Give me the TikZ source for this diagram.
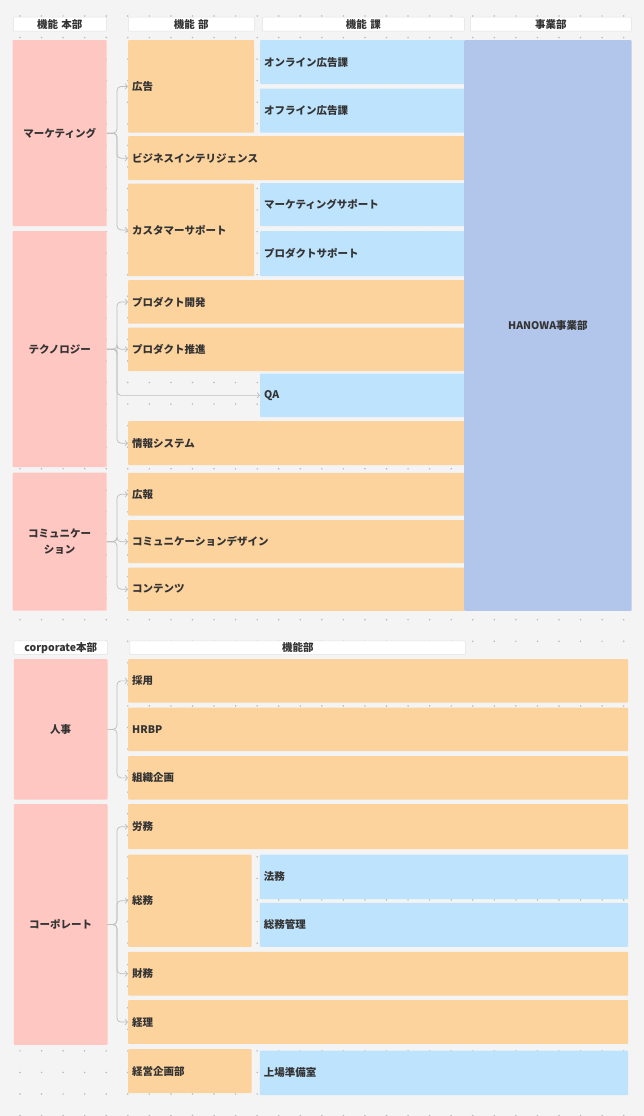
\documentclass[tikz,border=0pt]{standalone}
\usepackage{fontspec}
\setmainfont{Noto Sans CJK JP}
\usetikzlibrary{arrows.meta}
\definecolor{bg}{HTML}{F4F4F4}
\definecolor{dotc}{HTML}{B8B8B8}
\definecolor{ink}{HTML}{333333}
\definecolor{hqpink}{HTML}{FFC7C2}
\definecolor{deptorange}{HTML}{FCD29D}
\definecolor{sectblue}{HTML}{BEE3FD}
\definecolor{bizblue}{HTML}{B2C6EC}
\definecolor{hdrline}{HTML}{E2E2E2}
\definecolor{connc}{HTML}{BDBDBD}

\begin{document}
\begin{tikzpicture}[x=1pt,y=-1pt,
  base/.style={inner xsep=4pt,inner ysep=0pt,text=ink,rounded corners=0.8pt,
    font=\fontsize{10.5}{12.5}\selectfont\bfseries},
  hq/.style={base,fill=hqpink,align=center,font=\fontsize{10.5}{16.5}\selectfont\bfseries},
  dept/.style={base,fill=deptorange,align=left},
  sect/.style={base,fill=sectblue,align=left},
  biz/.style={base,fill=bizblue,align=center},
  hdr/.style={base,fill=white,draw=hdrline,line width=0.5pt,align=center},
  conn/.style={draw=connc,line width=0.7pt,rounded corners=4pt,
    -{Straight Barb[length=2.5pt,width=5.5pt]}}]
\def\bx#1#2#3#4#5#6#7{\pgfmathsetmacro\tw{#5-8}%
  \node[#2,anchor=north west,minimum width=#5pt,minimum height=#6pt,text width=\tw pt] (#1) at (#3,#4) {#7};}

\useasboundingbox (0,0) rectangle (644,1116);
\fill[bg] (0,0) rectangle (644,1116);
\foreach \i in {0,...,29}
  \foreach \j in {0,...,51}
    \fill[dotc] (20+\i*21.56,16+\j*21.56) circle[radius=0.85pt];

% headers
\bx{hdA}{hdr}{13}{17}{93}{14}{機能 本部}
\bx{hdB}{hdr}{128}{17}{126}{14}{機能 部}
\bx{hdC}{hdr}{262}{17}{202}{14}{機能 課}
\bx{hdD}{hdr}{470}{17}{161}{14}{事業部}

% 本部
\bx{mkt}{hq}{12.5}{40}{94}{186}{マーケティング}
\bx{tech}{hq}{12.5}{231}{94}{236}{テクノロジー}
\bx{comm}{hq}{12.5}{472.5}{94}{138}{コミュニケー\\ション}

% 部 / 課
\bx{ad}{dept}{128}{40}{126}{92.5}{広告}
\bx{online}{sect}{260}{40}{204}{44}{オンライン広告課}
\bx{offline}{sect}{260}{88.5}{204}{44}{オフライン広告課}
\bx{bi}{dept}{128}{136}{336}{44}{ビジネスインテリジェンス}
\bx{cs}{dept}{128}{183.5}{126}{92.5}{カスタマーサポート}
\bx{mktsup}{sect}{260}{183}{204}{43}{マーケティングサポート}
\bx{prodsup}{sect}{260}{231}{204}{45}{プロダクトサポート}
\bx{dev}{dept}{128}{280}{336}{43.5}{プロダクト開発}
\bx{promo}{dept}{128}{327.3}{336}{43.5}{プロダクト推進}
\bx{qa}{sect}{260}{373.3}{204}{43.7}{QA}
\bx{infosys}{dept}{128}{421}{336}{44}{情報システム}
\bx{pr}{dept}{128}{472.7}{336}{42.7}{広報}
\bx{cd}{dept}{128}{520}{336}{43}{コミュニケーションデザイン}
\bx{cont}{dept}{128}{567.3}{336}{43.4}{コンテンツ}
\bx{hanowa}{biz}{464}{40}{167.5}{570.7}{HANOWA事業部}

% corporate
\bx{hdE}{hdr}{13.7}{640.7}{93.6}{13.3}{corporate本部}
\bx{hdF}{hdr}{129.7}{640.7}{335.6}{13.3}{機能部}
\bx{hr}{hq}{13.7}{659}{93.6}{140.3}{人事}
\bx{corp}{hq}{13.7}{804}{93.6}{240.7}{コーポレート}
\bx{recruit}{dept}{128}{659}{500}{43.3}{採用}
\bx{hrbp}{dept}{128}{707.3}{500}{43.7}{HRBP}
\bx{orgplan}{dept}{128}{756}{500}{43.3}{組織企画}
\bx{labor}{dept}{128}{804}{500}{45}{労務}
\bx{ga}{dept}{128}{854.3}{123.3}{92.4}{総務}
\bx{legal}{sect}{259.7}{854.3}{368.3}{44.7}{法務}
\bx{gamgmt}{sect}{259.7}{902.7}{368.3}{44}{総務管理}
\bx{finance}{dept}{128}{951.7}{500}{43.6}{財務}
\bx{acct}{dept}{128}{1000}{500}{43.7}{経理}
\bx{mgmtplan}{dept}{128}{1049}{123.3}{44}{経営企画部}
\bx{ipo}{sect}{259.7}{1050.3}{368.3}{44.7}{上場準備室}

% links
\coordinate (spine) at (117,0);
\foreach \c in {ad,bi,cs} \draw[conn] (mkt.east) -| (spine |- \c.west) -- (\c.west);
\foreach \c in {dev,promo,qa,infosys} \draw[conn] (tech.east) -| (spine |- \c.west) -- (\c.west);
\foreach \c in {pr,cd,cont} \draw[conn] (comm.east) -| (spine |- \c.west) -- (\c.west);
\foreach \c in {recruit,orgplan} \draw[conn] (hr.east) -| (spine |- \c.west) -- (\c.west);
\foreach \c in {labor,ga,finance,acct} \draw[conn] (corp.east) -| (spine |- \c.west) -- (\c.west);
\end{tikzpicture}
\end{document}
